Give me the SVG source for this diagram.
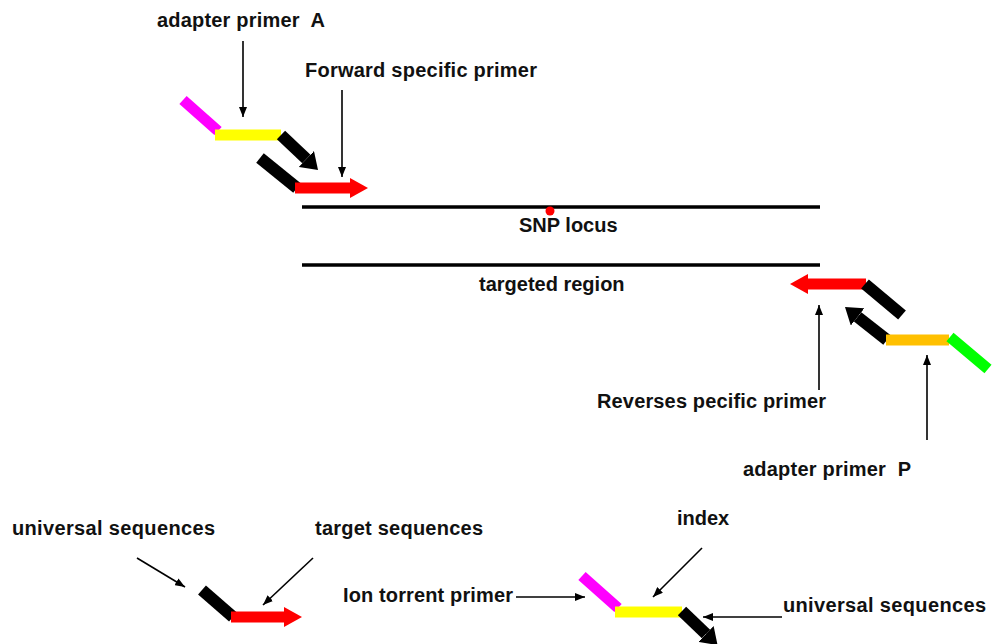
<svg xmlns="http://www.w3.org/2000/svg" width="998" height="644" viewBox="0 0 998 644">
  <style>
    text { font-family: "Liberation Sans", Arial, sans-serif; font-size: 20px; font-weight: bold; fill: #111; }
    .seg { fill: none; stroke-linecap: butt; }
    .mag { stroke: #ff00ff; stroke-width: 11; }
    .yel { stroke: #ffff00; stroke-width: 11; }
    .org { stroke: #ffc000; stroke-width: 11; }
    .grn { stroke: #00ff00; stroke-width: 11; }
    .blk { stroke: #000000; stroke-width: 12; }
    .red { stroke: #ff0000; stroke-width: 11; }
    .strand { stroke: #000; stroke-width: 3.5; fill: none; }
    .conn { stroke: #000; stroke-width: 1.6; fill: none; marker-end: url(#thin); }
  </style>
  <defs>
    <marker id="thin" markerUnits="userSpaceOnUse" viewBox="0 0 10 8" markerWidth="10" markerHeight="8" refX="10" refY="4" orient="auto">
      <path d="M0,0 L10,4 L0,8 z" fill="#000"/>
    </marker>
    <marker id="redhead" markerUnits="userSpaceOnUse" viewBox="0 0 18 20" markerWidth="18" markerHeight="20" refX="0" refY="10" orient="auto">
      <path d="M0,0 L18,10 L0,20 z" fill="#ff0000"/>
    </marker>
    <marker id="blkhead" markerUnits="userSpaceOnUse" viewBox="0 0 16 22" markerWidth="16" markerHeight="22" refX="0" refY="11" orient="auto">
      <path d="M0,0 L16,11 L0,22 z" fill="#000"/>
    </marker>
  </defs>

  <g id="adapter-primer-A">
    <line class="seg mag" x1="183" y1="100" x2="218" y2="131"/>
    <line class="seg yel" x1="215" y1="135" x2="281" y2="135"/>
    <line class="seg blk" x1="281" y1="135" x2="306.4" y2="159" marker-end="url(#blkhead)"/>
  </g>

  <g id="forward-specific-primer">
    <line class="seg blk" x1="260" y1="158" x2="297" y2="188"/>
    <line class="seg red" x1="295" y1="188" x2="350" y2="188" marker-end="url(#redhead)"/>
  </g>

  <g id="template-top">
    <line class="strand" x1="302" y1="207" x2="820" y2="207"/>
    <circle cx="550" cy="211" r="4.5" fill="#ff0000"/>
  </g>

  <g id="template-bottom">
    <line class="strand" x1="302" y1="265" x2="820" y2="265"/>
  </g>

  <g id="reverse-specific-primer">
    <line class="seg red" x1="866" y1="284" x2="808" y2="284" marker-end="url(#redhead)"/>
    <line class="seg blk" x1="865" y1="284" x2="902" y2="315"/>
  </g>

  <g id="adapter-primer-P">
    <line class="seg blk" x1="887" y1="340" x2="857.6" y2="316.9" marker-end="url(#blkhead)"/>
    <line class="seg org" x1="886" y1="340" x2="949" y2="340"/>
    <line class="seg grn" x1="950" y1="337" x2="988" y2="369"/>
  </g>

  <g id="target-primer-legend">
    <line class="seg blk" x1="202" y1="590" x2="233" y2="617"/>
    <line class="seg red" x1="231" y1="617" x2="284" y2="617" marker-end="url(#redhead)"/>
  </g>

  <g id="ion-torrent-primer-legend">
    <line class="seg mag" x1="582" y1="576" x2="618" y2="608"/>
    <line class="seg yel" x1="615" y1="612" x2="682" y2="612"/>
    <line class="seg blk" x1="682" y1="611" x2="706" y2="634" marker-end="url(#blkhead)"/>
  </g>

  <g id="labels">
    <text x="157" y="27" xml:space="preserve" textLength="168">adapter primer  A</text>
    <text x="305" y="77" textLength="232">Forward specific primer</text>
    <text x="519" y="232">SNP locus</text>
    <text x="479" y="291">targeted region</text>
    <text x="597" y="408" textLength="229">Reverses pecific primer</text>
    <text x="743" y="476" xml:space="preserve" textLength="168">adapter primer  P</text>
    <text x="12" y="535" textLength="203">universal sequences</text>
    <text x="315" y="535" textLength="168">target sequences</text>
    <text x="677" y="525">index</text>
    <text x="343" y="602" textLength="170">Ion torrent primer</text>
    <text x="783" y="612" textLength="203">universal sequences</text>
  </g>

  <g id="connectors">
    <line class="conn" x1="243" y1="41" x2="243" y2="117"/>
    <line class="conn" x1="342" y1="90" x2="342" y2="177"/>
    <line class="conn" x1="819" y1="390" x2="819" y2="305"/>
    <line class="conn" x1="927" y1="440" x2="927" y2="355"/>
    <line class="conn" x1="137" y1="558" x2="185" y2="587"/>
    <line class="conn" x1="313" y1="558" x2="263" y2="605"/>
    <line class="conn" x1="702" y1="548" x2="653" y2="597"/>
    <line class="conn" x1="516" y1="597" x2="585" y2="597"/>
    <line class="conn" x1="782" y1="617" x2="703" y2="617"/>
  </g>
</svg>
